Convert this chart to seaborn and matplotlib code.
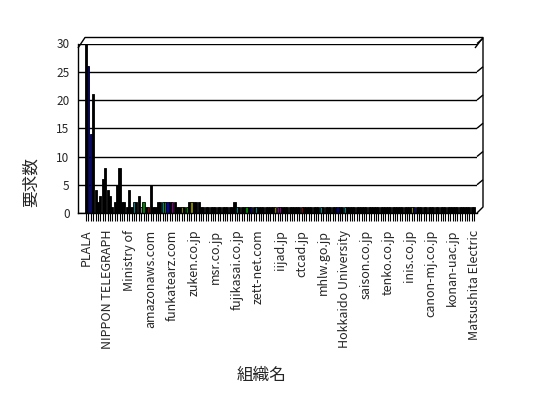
import matplotlib
matplotlib.use("Agg")
import matplotlib.pyplot as plt
import seaborn as sns
import pandas as pd

# ---- data ----
request_counts = [
    30, 26, 14, 21, 4, 2, 3, 6, 8, 4,
    3, 1, 2, 5, 8, 2, 2, 1, 4, 1,
    2, 2, 3, 1, 2, 1, 1, 5, 1, 1,
    2, 2, 2, 2, 2, 2, 2, 2, 1, 1,
    1, 1, 1, 2, 2, 2, 2, 2, 1, 1,
    1, 1, 1, 1, 1, 1, 1, 1, 1, 1,
    1, 1, 2, 1, 1, 1, 1, 1, 1, 1,
    1, 1, 1, 1, 1, 1, 1, 1, 1, 1,
    1, 1, 1, 1, 1, 1, 1, 1, 1, 1,
    1, 1, 1, 1, 1, 1, 1, 1, 1, 1,
    1, 1, 1, 1, 1, 1, 1, 1, 1, 1,
    1, 1, 1, 1, 1, 1, 1, 1, 1, 1,
    1, 1, 1, 1, 1, 1, 1, 1, 1, 1,
    1, 1, 1, 1, 1, 1, 1, 1, 1, 1,
    1, 1, 1, 1, 1, 1, 1, 1, 1, 1,
    1, 1, 1, 1, 1, 1, 1, 1, 1, 1,
    1, 1, 1,
]
label_names = [
    "PLALA", "NIPPON TELEGRAPH", "Ministry of", "amazonaws.com",
    "funkatearz.com", "zuken.co.jp", "msr.co.jp", "fujikasai.co.jp",
    "zett-net.com", "iijad.jp", "ctcad.jp", "mhlw.go.jp",
    "Hokkaido University", "saison.co.jp", "tenko.co.jp", "inis.co.jp",
    "canon-mj.co.jp", "konan-uac.jp", "Matsushita Electric",
]
label_step = 9
y_ticks = [0, 5, 10, 15, 20, 25, 30]
x_title = "組織名"
y_title = "要求数"

# ---- style ----
sns.set_style("white")
plt.rcParams["font.family"] = ["Noto Sans CJK JP", "DejaVu Sans"]

n = len(request_counts)
accent = {1: "#000080", 2: "#0000a0", 20: "#008080", 23: "#808080", 24: "#008000",
          26: "#800000", 32: "#008080", 33: "#008000", 34: "#0000c0", 36: "#800080",
          40: "#808000", 42: "#008000", 44: "#808000", 63: "#008080", 67: "#008000",
          69: "#000080", 71: "#008080", 79: "#808000", 80: "#800080", 81: "#800080",
          90: "#800000", 98: "#008080", 105: "#000080", 108: "#008080",
          136: "#808000", 137: "#000080"}

df = pd.DataFrame({"key": [str(i) for i in range(n)], "count": request_counts})
palette = {str(i): accent.get(i, "#000000") for i in range(n)}

W, H = 548, 398
fig = plt.figure(figsize=(W / 100, H / 100), dpi=100)
L, R, T, B = 78, 477, 43.5, 213
ax = fig.add_axes([L / W, 1 - B / H, (R - L) / W, (B - T) / H])

sns.barplot(data=df, x="key", y="count", hue="key", palette=palette, legend=False,
            width=0.9, saturation=1, linewidth=0.6, edgecolor="black", ax=ax)

ax.set_xlim(-3.35, n + 0.2)
ax.set_ylim(0, 30)
ax.set_yticks(y_ticks)
ax.set_yticklabels([str(v) for v in y_ticks], fontsize=8.5)
ax.tick_params(axis="y", length=0, pad=6)

tick_labels = [""] * n
for i, name in enumerate(label_names):
    tick_labels[i * label_step] = name
ax.set_xticks(range(n))
ax.set_xticklabels(tick_labels, rotation=90, fontsize=9)
ax.tick_params(axis="x", length=6, width=0.8, pad=6, direction="out", bottom=True,
               color="black")

ax.yaxis.grid(True, color="black", linewidth=1.0)
ax.set_axisbelow(True)
for s in ["top", "right"]:
    ax.spines[s].set_visible(False)
for s in ["left", "bottom"]:
    ax.spines[s].set_color("black")
    ax.spines[s].set_linewidth(1.0)

ax.set_xlabel(x_title, fontsize=12)
ax.set_ylabel(y_title, fontsize=12)
ax.xaxis.set_label_coords((262 - L) / (R - L), (B - 367) / (B - T))
ax.yaxis.set_label_coords((40 - L) / (R - L), (B - 182) / (B - T))

# 3D frame decoration
ov = fig.add_axes([0, 0, 1, 1], facecolor="none")
ov.set_xlim(0, W)
ov.set_ylim(H, 0)
ov.axis("off")
kw = dict(color="black", linewidth=1.0, solid_capstyle="butt")
ov.plot([78, 85, 483, 483, 477], [48, 37.5, 37.5, 207, 213], **kw)
ov.plot([475, 483], [48, 37.5], **kw)
for v in y_ticks[1:]:
    yy = B - v * (B - T) / 30
    ov.plot([477, 483], [yy, yy - 5], **kw)

fig.savefig("out.png", dpi=100)
